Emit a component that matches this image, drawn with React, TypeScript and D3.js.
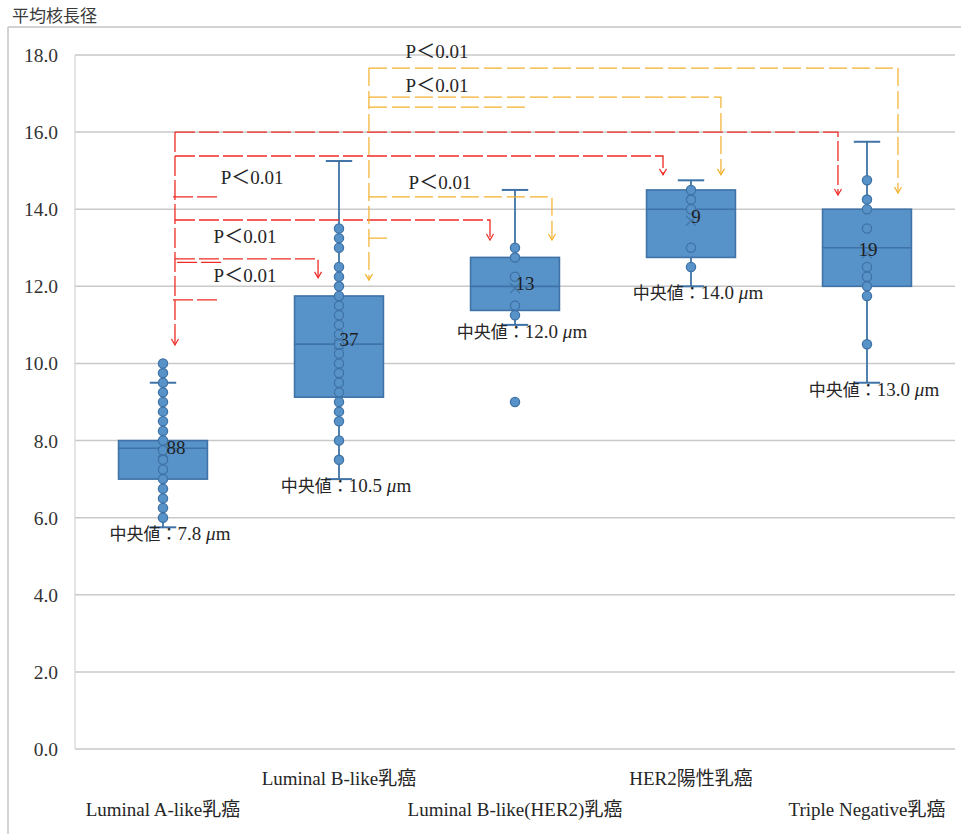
import React from 'react';
import * as d3 from 'd3';

// ---- data ----
const categories = [
  'Luminal A-like乳癌',
  'Luminal B-like乳癌',
  'Luminal B-like(HER2)乳癌',
  'HER2陽性乳癌',
  'Triple Negative乳癌',
];
const counts = [88, 37, 13, 9, 19];
const q1 = [7.0, 9.125, 11.375, 12.75, 12.0];
const medians = [7.8, 10.5, 12.0, 14.0, 13.0];
const q3 = [8.0, 11.75, 12.75, 14.5, 14.0];
const whiskerLow = [5.75, 7.0, 11.0, 12.0, 9.5];
const whiskerHigh = [9.5, 15.25, 14.5, 14.75, 15.75];
const means = [7.7, 10.5, 11.95, 13.7, 12.85];

const pointsLumA = [6.0, 6.25, 6.5, 6.75, 7.0, 7.25, 7.5, 7.75, 8.0, 8.25, 8.5, 8.75, 9.0, 9.25, 9.5, 9.75, 10.0];
const pointsLumB = [7.5, 8.0, 8.5, 8.75, 9.0, 9.25, 9.5, 9.75, 10.0, 10.25, 10.5, 10.75, 11.0, 11.25, 11.5, 11.75, 12.0, 12.25, 12.5, 13.0, 13.25, 13.5];
const pointsLumBHer2 = [9.0, 11.25, 11.5, 12.25, 12.75, 13.0];
const pointsHer2 = [12.5, 13.0, 14.0, 14.25, 14.5];
const pointsTN = [10.5, 11.75, 12.0, 12.25, 12.5, 13.5, 14.0, 14.25, 14.75];
const points = [pointsLumA, pointsLumB, pointsLumBHer2, pointsHer2, pointsTN];

const yTicks = [0, 2, 4, 6, 8, 10, 12, 14, 16, 18];
const yTitle = '平均核長径';
const medianPrefix = '中央値：';
const pLabel = 'P＜0.01';

// ---- significance annotations (x in band units from the plot's left edge) ----
type Bracket = { level: number; end: number; xEnd: number };
const redTrunk = { x: 0.568, top: 16.0, bottom: 10.48 };
const redBrackets: Bracket[] = [
  { level: 16.0, end: 14.37, xEnd: 4.335 },
  { level: 15.38, end: 14.89, xEnd: 3.341 },
  { level: 13.72, end: 13.2, xEnd: 2.358 },
  { level: 12.71, end: 12.22, xEnd: 1.381 },
];
const redStubs = [
  { level: 14.32, x0: 0.557, x1: 0.813 },
  { level: 12.62, x0: 0.58, x1: 0.835 },
  { level: 11.65, x0: 0.557, x1: 0.813 },
];
const orangeTrunk = { x: 1.67, top: 17.66, bottom: 12.16 };
const orangeBrackets: Bracket[] = [
  { level: 17.66, end: 14.42, xEnd: 4.676 },
  { level: 16.91, end: 14.89, xEnd: 3.67 },
  { level: 14.32, end: 13.2, xEnd: 2.71 },
];
const orangeStubs = [
  { level: 16.65, x0: 1.67, x1: 2.574 },
  { level: 13.25, x0: 1.67, x1: 1.784 },
];
const pLabels = [
  { x: 1.006, v: 14.81 },
  { x: 0.966, v: 13.28 },
  { x: 0.966, v: 12.27 },
  { x: 2.057, v: 18.08 },
  { x: 2.057, v: 17.2 },
  { x: 2.074, v: 14.68 },
];
const countDx = [13, 10, 10, 5, 1];

// ---- layout ----
const W = 961;
const H = 834;
const plotLeft = 75;
const plotRight = 955;
const plotTop = 55;
const plotBottom = 749;

const SERIF = 'Liberation Serif, DejaVu Serif, Noto Sans CJK JP, serif';
const CJK = 'Noto Sans CJK JP, sans-serif';
const RED = '#EE2B25';
const ORANGE = '#F4B02C';
const BOX_FILL = '#5793C8';
const BOX_STROKE = '#3F72A6';
const GRID = '#C9C9C9';
const TEXT = '#262626';

export default function App() {
  const x = d3.scaleBand<string>().domain(categories).range([plotLeft, plotRight]).padding(0);
  const y = d3.scaleLinear().domain([0, 18]).range([plotBottom, plotTop]);
  const step = x.step();
  const bx = (u: number) => plotLeft + u * step;
  const cx = (i: number) => (x(categories[i]) as number) + x.bandwidth() / 2;
  const boxW = step * 0.505;
  const capW = step * 0.15;

  const arrow = (ax: number, ay: number, color: string, key: string) => (
    <path
      key={key}
      d={`M${ax - 3.5},${ay - 6} L${ax},${ay} L${ax + 3.5},${ay - 6}`}
      fill="none"
      stroke={color}
      strokeWidth={1.2}
    />
  );

  const renderBrackets = (
    trunk: { x: number; top: number; bottom: number },
    list: Bracket[],
    stubs: { level: number; x0: number; x1: number }[],
    color: string,
    dash: string,
    sw: number,
    prefix: string
  ) => {
    const tx = bx(trunk.x);
    const els: React.ReactNode[] = [];
    els.push(
      <line key={`${prefix}-trunk`} x1={tx} x2={tx} y1={y(trunk.top)} y2={y(trunk.bottom)} stroke={color} strokeWidth={sw} strokeDasharray={dash} />
    );
    els.push(arrow(tx, y(trunk.bottom), color, `${prefix}-trunk-arrow`));
    list.forEach((b, i) => {
      const ex = bx(b.xEnd);
      els.push(
        <path
          key={`${prefix}-b${i}`}
          d={`M${tx},${y(b.level)} H${ex} V${y(b.end)}`}
          fill="none"
          stroke={color}
          strokeWidth={sw}
          strokeDasharray={dash}
        />
      );
      els.push(arrow(ex, y(b.end), color, `${prefix}-a${i}`));
    });
    stubs.forEach((s, i) => {
      els.push(
        <line key={`${prefix}-s${i}`} x1={bx(s.x0)} x2={bx(s.x1)} y1={y(s.level)} y2={y(s.level)} stroke={color} strokeWidth={sw} strokeDasharray={dash} />
      );
    });
    return els;
  };

  const serif = { fontFamily: SERIF };

  return (
    <svg width={W} height={H} style={{ position: 'absolute', left: 0, top: 0, background: '#fff' }}>
      {/* outer chart frame */}
      <line x1={8} x2={W} y1={27} y2={27} stroke="#C4C4C4" strokeWidth={1.5} />
      <line x1={8} x2={8} y1={27} y2={H} stroke="#C4C4C4" strokeWidth={1.5} />

      {/* axis title */}
      <text x={12} y={22} style={{ fontFamily: CJK }} fontSize={17} fill="#3a3a3a">
        {yTitle}
      </text>

      {/* gridlines and plot border */}
      {yTicks.map((t) => (
        <line key={`g${t}`} x1={plotLeft} x2={plotRight} y1={y(t)} y2={y(t)} stroke={GRID} strokeWidth={1.5} />
      ))}
      <line x1={plotLeft} x2={plotLeft} y1={plotTop} y2={plotBottom} stroke="#D4D4D4" strokeWidth={1.2} />

      {/* y tick labels */}
      {yTicks.map((t) => (
        <text key={`t${t}`} x={58} y={y(t) + 7} textAnchor="end" style={serif} fontSize={19.5} fill="#333">
          {d3.format('.1f')(t)}
        </text>
      ))}

      {/* category labels, staggered on two rows */}
      {categories.map((c, i) => (
        <text
          key={`c${i}`}
          x={cx(i)}
          y={i % 2 === 0 ? 816 : 785}
          textAnchor="middle"
          style={serif}
          fontSize={19}
          fill={TEXT}
        >
          {c}
        </text>
      ))}

      {/* box plots */}
      {categories.map((c, i) => {
        const center = cx(i);
        return (
          <g key={`box${i}`}>
            <line x1={center} x2={center} y1={y(q3[i])} y2={y(whiskerHigh[i])} stroke={BOX_STROKE} strokeWidth={1.8} />
            <line x1={center} x2={center} y1={y(q1[i])} y2={y(whiskerLow[i])} stroke={BOX_STROKE} strokeWidth={1.8} />
            <line x1={center - capW / 2} x2={center + capW / 2} y1={y(whiskerHigh[i])} y2={y(whiskerHigh[i])} stroke={BOX_STROKE} strokeWidth={2} />
            <line x1={center - capW / 2} x2={center + capW / 2} y1={y(whiskerLow[i])} y2={y(whiskerLow[i])} stroke={BOX_STROKE} strokeWidth={2} />
            <rect
              x={center - boxW / 2}
              y={y(q3[i])}
              width={boxW}
              height={y(q1[i]) - y(q3[i])}
              fill={BOX_FILL}
              stroke={BOX_STROKE}
              strokeWidth={1.6}
            />
            <line x1={center - boxW / 2} x2={center + boxW / 2} y1={y(medians[i])} y2={y(medians[i])} stroke={BOX_STROKE} strokeWidth={1.6} />
            {/* mean marker */}
            <g stroke="#40709F" strokeOpacity={0.75} strokeWidth={1.4}>
              <line x1={center - 5} x2={center + 5} y1={y(means[i]) - 5} y2={y(means[i]) + 5} />
              <line x1={center - 5} x2={center + 5} y1={y(means[i]) + 5} y2={y(means[i]) - 5} />
            </g>
            {points[i].map((v, j) => (
              <circle key={`p${i}-${j}`} cx={center} cy={y(v)} r={4.6} fill={BOX_FILL} stroke={BOX_STROKE} strokeWidth={1.3} />
            ))}
            <text
              x={center + countDx[i]}
              y={y(means[i]) + 2}
              textAnchor="middle"
              style={serif}
              fontSize={19}
              fill="#1e1e1e"
            >
              {counts[i]}
            </text>
            <text
              x={center + 7}
              y={y(whiskerLow[i]) + 13}
              textAnchor="middle"
              style={serif}
              fontSize={17}
              fill={TEXT}
            >
              {medianPrefix}
              <tspan fontSize={19}>
                {d3.format('.1f')(medians[i])}{' '}
                <tspan fontStyle="italic">μ</tspan>m
              </tspan>
            </text>
          </g>
        );
      })}

      {/* significance brackets */}
      {renderBrackets(redTrunk, redBrackets, redStubs, RED, '20 4', 1.3, 'r')}
      {renderBrackets(orangeTrunk, orangeBrackets, orangeStubs, ORANGE, '18 5', 1.2, 'o')}

      {pLabels.map((p, i) => (
        <text key={`pl${i}`} x={bx(p.x)} y={y(p.v) + 6} textAnchor="middle" style={serif} fontSize={19} fill={TEXT}>
          {pLabel}
        </text>
      ))}
    </svg>
  );
}
